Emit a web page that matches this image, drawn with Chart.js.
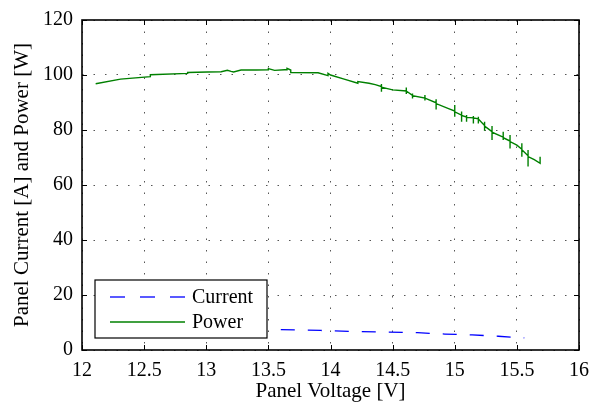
<!DOCTYPE html>
<html>
<head>
<meta charset="utf-8">
<script src="https://cdn.jsdelivr.net/npm/chart.js@4.4.1/dist/chart.umd.min.js"></script>
<style>
    html, body { margin: 0; padding: 0; background: #fff; }
</style>
</head>
<body>
<canvas id="chartCanvas" width="591" height="406"></canvas>
<script>
// tick labels
const voltageTicks = [12, 12.5, 13, 13.5, 14, 14.5, 15, 15.5, 16];
const valueTicks = [0, 20, 40, 60, 80, 100, 120];

// power trace (repeated voltages are the vertical jitter in the measurement)
const powerV = [12.11, 12.31, 12.55, 12.55, 12.85, 12.85, 13.01, 13.12, 13.17, 13.20, 13.22, 13.28, 13.40,
    13.50, 13.50, 13.55, 13.63, 13.65, 13.65, 13.68, 13.68, 13.90, 13.98, 13.98, 14.00, 14.11, 14.22, 14.22,
    14.31, 14.36, 14.41, 14.41, 14.41, 14.41, 14.50, 14.61, 14.61, 14.61, 14.61, 14.66, 14.66, 14.66, 14.66,
    14.76, 14.76, 14.76, 14.76, 14.85, 14.85, 14.85, 14.85, 14.95, 15.00, 15.00, 15.00, 15.00,
    15.055, 15.055, 15.055, 15.055, 15.095, 15.095, 15.095, 15.095, 15.15, 15.15, 15.15, 15.15,
    15.19, 15.19, 15.19, 15.19, 15.24, 15.24, 15.24, 15.24, 15.30, 15.30, 15.30, 15.30,
    15.39, 15.39, 15.39, 15.39, 15.445, 15.445, 15.445, 15.445, 15.50, 15.54, 15.54, 15.54, 15.54,
    15.59, 15.59, 15.59, 15.59, 15.64, 15.687, 15.687];
const powerW = [96.8, 98.5, 99.4, 100.1, 100.6, 100.9, 101.1, 101.2, 101.7, 101.3, 101.1, 101.8, 101.8,
    101.9, 102.3, 101.7, 101.9, 101.9, 102.4, 101.8, 100.9, 100.8, 99.8, 100.6, 100.0, 98.5, 97.0, 97.6,
    97.0, 96.5, 95.8, 96.7, 93.9, 95.6, 94.6, 94.2, 95.5, 93.1, 94.2, 92.6, 93.3, 91.5, 92.5,
    91.6, 92.7, 90.7, 91.6, 89.9, 91.2, 87.5, 89.6, 87.8, 86.9, 89.1, 84.8, 86.6,
    85.4, 86.7, 83.0, 85.3, 84.7, 85.5, 83.0, 84.6, 84.4, 85.1, 82.4, 84.4,
    84.1, 84.8, 82.4, 84.0, 81.6, 83.0, 79.7, 81.4, 79.4, 81.5, 76.4, 79.2,
    77.4, 79.4, 76.4, 77.2, 76.0, 78.2, 73.3, 75.8, 74.5, 73.0, 75.2, 70.3, 72.8,
    70.6, 72.7, 66.7, 70.3, 69.2, 67.9, 70.3];

// current trace
const currentV = [13.60, 13.92, 14.22, 14.46, 14.70, 14.92, 15.14, 15.35, 15.56];
const currentA = [7.4, 7.1, 6.7, 6.5, 6.3, 5.8, 5.5, 5.0, 4.4];

const seriesNames = ["Current", "Power"];
const seriesColors = ["#0000ff", "#008000"];

const serif = "'Liberation Serif', 'DejaVu Serif', serif";

const boxAndLegend = {
    id: "boxAndLegend",
    afterDraw(c) {
        const ctx = c.ctx;
        const a = c.chartArea;
        const xs = c.scales.x, ys = c.scales.y;
        ctx.save();
        ctx.strokeStyle = "#000";
        ctx.lineWidth = 1;
        ctx.setLineDash([]);
        // inward ticks
        ctx.beginPath();
        voltageTicks.forEach(v => {
            const px = Math.round(xs.getPixelForValue(v)) + 0.5;
            ctx.moveTo(px, a.bottom); ctx.lineTo(px, a.bottom - 5);
            ctx.moveTo(px, a.top); ctx.lineTo(px, a.top + 5);
        });
        valueTicks.forEach(v => {
            const py = Math.round(ys.getPixelForValue(v)) + 0.5;
            ctx.moveTo(a.left, py); ctx.lineTo(a.left + 5, py);
            ctx.moveTo(a.right, py); ctx.lineTo(a.right - 5, py);
        });
        ctx.stroke();
        // frame
        ctx.lineWidth = 1.6;
        ctx.strokeRect(a.left, a.top, a.right - a.left, a.bottom - a.top);

        // legend box
        const lx = a.left + 13, ly = a.bottom - 70, lw = 172, lh = 58;
        ctx.fillStyle = "#fff";
        ctx.fillRect(lx, ly, lw, lh);
        ctx.lineWidth = 1.2;
        ctx.strokeRect(lx, ly, lw, lh);
        ctx.font = "20px " + serif;
        ctx.textBaseline = "middle";
        seriesNames.forEach((name, i) => {
            const rowY = ly + 17 + i * 25;
            ctx.strokeStyle = seriesColors[i];
            ctx.lineWidth = 1.3;
            ctx.setLineDash(i === 0 ? [15, 15] : []);
            ctx.beginPath();
            ctx.moveTo(lx + 15, rowY);
            ctx.lineTo(lx + 90, rowY);
            ctx.stroke();
            ctx.setLineDash([]);
            ctx.fillStyle = "#000";
            ctx.fillText(name, lx + 97, rowY + 1);
        });
        ctx.restore();
    }
};

const chart = new Chart(document.getElementById("chartCanvas"), {
    type: "scatter",
    data: {
        datasets: [
            {
                label: seriesNames[0],
                data: currentV.map((v, i) => ({ x: v, y: currentA[i] })),
                showLine: true,
                borderColor: seriesColors[0],
                borderWidth: 1.3,
                borderDash: [14, 13],
                pointRadius: 0,
                tension: 0
            },
            {
                label: seriesNames[1],
                data: powerV.map((v, i) => ({ x: v, y: powerW[i] })),
                showLine: true,
                borderColor: seriesColors[1],
                borderWidth: 1.4,
                pointRadius: 0,
                tension: 0
            }
        ]
    },
    options: {
        responsive: false,
        animation: false,
        devicePixelRatio: 1,
        layout: { padding: { top: 20, right: 12, left: 0, bottom: 0 } },
        plugins: {
            legend: { display: false },
            tooltip: { enabled: false }
        },
        scales: {
            x: {
                type: "linear",
                min: 12,
                max: 16,
                afterBuildTicks: s => { s.ticks = voltageTicks.map(v => ({ value: v })); },
                afterFit: s => {
                    s.height = 56;
                    s.paddingLeft = 0;
                    s.paddingRight = 0;
                },
                ticks: {
                    color: "#000",
                    font: { family: serif, size: 20 },
                    padding: 9,
                    maxRotation: 0,
                    callback: v => String(v)
                },
                grid: { color: "#555", lineWidth: 1, drawTicks: false },
                border: { display: false, dash: [1.5, 10] },
                title: {
                    display: true,
                    text: "Panel Voltage [V]",
                    color: "#000",
                    font: { family: serif, size: 21 },
                    padding: { top: 0, bottom: 2 }
                }
            },
            y: {
                type: "linear",
                min: 0,
                max: 120,
                afterBuildTicks: s => { s.ticks = valueTicks.map(v => ({ value: v })); },
                afterFit: s => {
                    s.width = 82;
                    s.paddingTop = 0;
                    s.paddingBottom = 0;
                },
                ticks: {
                    color: "#000",
                    font: { family: serif, size: 20 },
                    padding: 9,
                    callback: v => String(v)
                },
                grid: { color: "#555", lineWidth: 1, drawTicks: false },
                border: { display: false, dash: [1.5, 10] },
                title: {
                    display: true,
                    text: "Panel Current [A] and Power [W]",
                    color: "#000",
                    font: { family: serif, size: 21 },
                    padding: { top: 10, bottom: 0 }
                }
            }
        }
    },
    plugins: [boxAndLegend]
});
</script>
</body>
</html>
